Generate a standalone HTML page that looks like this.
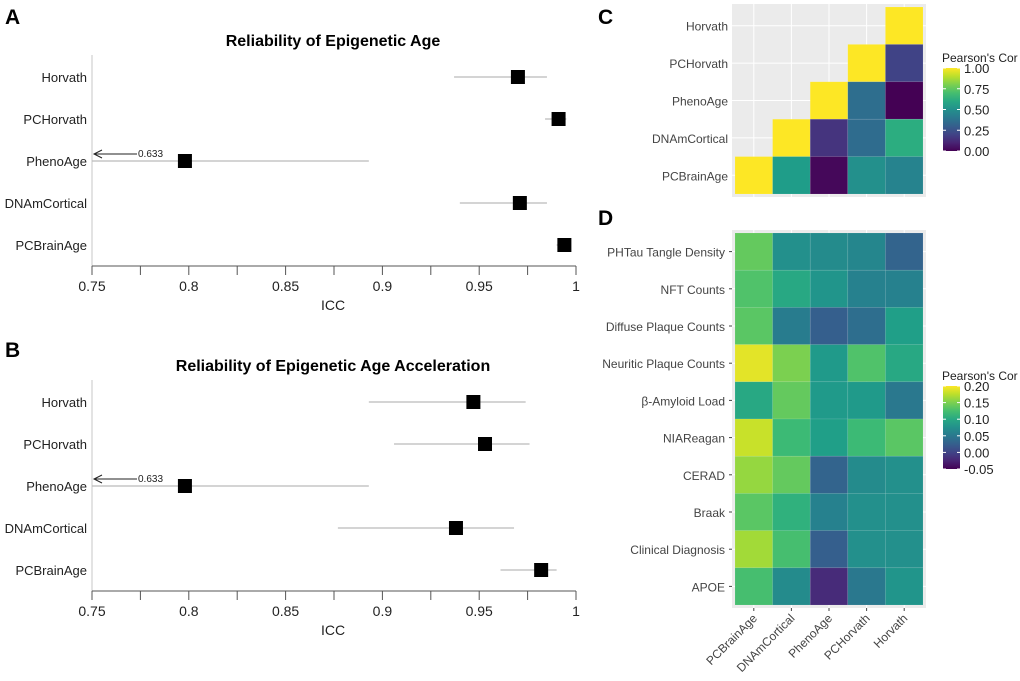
<!DOCTYPE html>
<html><head><meta charset="utf-8">
<style>
body{margin:0;background:#fff;font-family:"Liberation Sans",sans-serif;}
svg text{font-family:"Liberation Sans","DejaVu Sans",sans-serif;}
</style></head>
<body>
<svg id="fig" width="1020" height="676" viewBox="0 0 1020 676" xmlns="http://www.w3.org/2000/svg">
<text x="5" y="24" font-size="21" font-weight="bold">A</text>
<text x="5" y="357" font-size="21" font-weight="bold">B</text>
<text x="598" y="24" font-size="21" font-weight="bold">C</text>
<text x="598" y="225" font-size="21" font-weight="bold">D</text>
<g id="pa"></g>
<g id="pb"></g>
<g id="pc"></g>
<g id="pd"></g>
</svg>
<script>
const clocks = ["Horvath","PCHorvath","PhenoAge","DNAmCortical","PCBrainAge"];
const iccA = [0.970, 0.991, 0.798, 0.971, 0.994];
const lowA = [0.937, 0.984, 0.633, 0.940, 0.990];
const highA = [0.985, 0.995, 0.893, 0.985, 0.997];
const iccB = [0.947, 0.953, 0.798, 0.938, 0.982];
const lowB = [0.893, 0.906, 0.633, 0.877, 0.961];
const highB = [0.974, 0.976, 0.893, 0.968, 0.990];
const xTicks = [0.75, 0.8, 0.85, 0.9, 0.95, 1];
const xTickLabels = ["0.75","0.8","0.85","0.9","0.95","1"];

const heatCols = ["PCBrainAge","DNAmCortical","PhenoAge","PCHorvath","Horvath"];
const heatCRows = ["Horvath","PCHorvath","PhenoAge","DNAmCortical","PCBrainAge"];
const corC = [
 [null,null,null,null,1.0],
 [null,null,null,1.0,0.20],
 [null,null,1.0,0.36,0.0],
 [null,1.0,0.15,0.35,0.62],
 [1.0,0.55,0.02,0.50,0.45]
];
const cTicks = [0,0.25,0.5,0.75,1];
const cTickLabels = ["0.00","0.25","0.50","0.75","1.00"];
const heatDRows = ["PHTau Tangle Density","NFT Counts","Diffuse Plaque Counts","Neuritic Plaque Counts","β-Amyloid Load","NIAReagan","CERAD","Braak","Clinical Diagnosis","APOE"];
const corD = [
 [0.140,0.075,0.070,0.065,0.030],
 [0.130,0.100,0.080,0.060,0.060],
 [0.135,0.055,0.025,0.040,0.090],
 [0.190,0.150,0.085,0.130,0.100],
 [0.100,0.140,0.085,0.085,0.050],
 [0.180,0.120,0.090,0.120,0.135],
 [0.160,0.140,0.030,0.070,0.075],
 [0.135,0.110,0.060,0.075,0.075],
 [0.165,0.125,0.025,0.075,0.075],
 [0.125,0.070,-0.020,0.050,0.080]
];
const dTicks = [-0.05,0,0.05,0.1,0.15,0.2];
const dTickLabels = ["-0.05","0.00","0.05","0.10","0.15","0.20"];

const NS="http://www.w3.org/2000/svg";
function mk(tag, attrs, parent){const e=document.createElementNS(NS,tag);for(const k in attrs)e.setAttribute(k,attrs[k]);parent.appendChild(e);return e;}

const vir=[[68,1,84],[72,40,120],[62,74,137],[49,104,142],[38,130,142],[31,158,137],[53,183,121],[109,205,89],[180,222,44],[253,231,37]];
function viridis(t){t=Math.max(0,Math.min(1,t));const p=t*(vir.length-1);const i=Math.min(Math.floor(p),vir.length-2);const f=p-i;const a=vir[i],b=vir[i+1];return `rgb(${Math.round(a[0]+(b[0]-a[0])*f)},${Math.round(a[1]+(b[1]-a[1])*f)},${Math.round(a[2]+(b[2]-a[2])*f)})`;}

function forest(g, title, icc, low, high, top){
  const x0=92, x1=576, axisY=top+266, rowY0=top+77, rowStep=42;
  const xs=v=>x0+(v-0.75)/0.25*(x1-x0);
  const t=mk('text',{x:333,y:top+46,'font-size':16,'font-weight':'bold','text-anchor':'middle'},g);t.textContent=title;
  
  
  const ya=mk('line',{x1:x0,y1:top+55,x2:x0,y2:axisY,stroke:'#d0d0d0','stroke-width':1.2},g);
  
  
  const xa=mk('line',{x1:x0,y1:axisY,x2:x1,y2:axisY,stroke:'#555','stroke-width':1},g);
  
  
  for(let v=0.75; v<=1.0001; v+=0.025){
    const tk=mk('line',{x1:xs(v),y1:axisY,x2:xs(v),y2:axisY+9,stroke:'#555','stroke-width':1},g);
    
    
  }
  xTicks.forEach((v,i)=>{const tt=mk('text',{x:xs(v),y:axisY+25,'font-size':14,'text-anchor':'middle',fill:'#222'},g);tt.textContent=xTickLabels[i];
    
    });
  const xl=mk('text',{x:333,y:axisY+44,'font-size':14,'text-anchor':'middle',fill:'#222'},g);xl.textContent='ICC';
  
  
  clocks.forEach((c,i)=>{
    const y=rowY0+i*rowStep;
    const lb=mk('text',{x:x0-5,y:y+5,'font-size':13,'text-anchor':'end',fill:'#222'},g);lb.textContent=c;
    
    
    const lo=Math.max(low[i],0.75);
    const ci=mk('line',{x1:xs(lo),y1:y,x2:xs(high[i]),y2:y,stroke:'#bbb','stroke-width':1.2},g);
    
    
    if(low[i]<0.75){
      const ar=mk('path',{d:`M${x0+2},${y-7} H${x0+45} M${x0+10},${y-11} L${x0+2},${y-7} L${x0+10},${y-3}`,stroke:'#222',fill:'none','stroke-width':1},g);
      
      
      const at=mk('text',{x:x0+46,y:y-4,'font-size':10,fill:'#222'},g);at.textContent=low[i].toFixed(3);
      
      
    }
    const pt=mk('rect',{x:xs(icc[i])-7,y:y-7,width:14,height:14,fill:'#000'},g);
    
    
  });
}
forest(document.getElementById('pa'),'Reliability of Epigenetic Age',iccA,lowA,highA,0);
forest(document.getElementById('pb'),'Reliability of Epigenetic Age Acceleration',iccB,lowB,highB,325);

function heat(g, rows, vals, vmin, vmax, box, legY, ticks, tickLabels, showX, rowTicks){
  const {x,y,w,h}=box;
  const bg=mk('rect',{x:x-3,y:y-3,width:w+6,height:h+6,fill:'#ebebeb'},g);
  
  
  const cw=w/heatCols.length, rh=h/rows.length;
  heatCols.forEach((c,j)=>{const gl=mk('line',{x1:x+cw*(j+0.5),y1:y-3,x2:x+cw*(j+0.5),y2:y+h+3,stroke:'#fff','stroke-width':1},g);
    
    });
  rows.forEach((r,i)=>{const gl=mk('line',{x1:x-3,y1:y+rh*(i+0.5),x2:x+w+3,y2:y+rh*(i+0.5),stroke:'#fff','stroke-width':1},g);
    
    });
  rows.forEach((r,i)=>{
    const lb=mk('text',{x:x-(rowTicks?10:7),y:y+rh*(i+0.5)+5,'font-size':12,'text-anchor':'end',fill:'#444'},g);lb.textContent=r;
    
    
    if(rowTicks){const tk=mk('line',{x1:x-6,y1:y+rh*(i+0.5),x2:x-3,y2:y+rh*(i+0.5),stroke:'#444'},g);
      
      }
    vals[i].forEach((v,j)=>{
      if(v===null)return;
      const c=mk('rect',{x:x+j*cw,y:y+i*rh,width:cw,height:rh,fill:viridis((v-vmin)/(vmax-vmin)),stroke:'rgba(255,255,255,0.15)','stroke-width':0.6},g);
      
      
    });
  });
  if(showX){
    heatCols.forEach((c,j)=>{
      const cx=x+cw*(j+0.5);
      const tk=mk('line',{x1:cx,y1:y+h+3,x2:cx,y2:y+h+6,stroke:'#444'},g);
      
      
      const t=mk('text',{x:cx+4,y:y+h+14,'font-size':12,'text-anchor':'end',fill:'#444',transform:`rotate(-45 ${cx+4} ${y+h+14})`},g);t.textContent=c;
      
      
    });
  }
  const lx=943, lt=legY, lh=83;
  const tt=mk('text',{x:lx-1,y:lt-6,'font-size':12,fill:'#222'},g);tt.textContent="Pearson's Cor";
  
  
  const gid='grad'+legY;
  const defs=mk('defs',{},g);const lg=mk('linearGradient',{id:gid,x1:0,y1:1,x2:0,y2:0},defs);
  for(let k=0;k<=10;k++)mk('stop',{offset:k/10,'stop-color':viridis(k/10)},lg);
  const bar=mk('rect',{x:lx,y:lt,width:17,height:lh,fill:`url(#${gid})`},g);
  
  
  ticks.forEach((v,i)=>{
    const ty=lt+lh-(v-vmin)/(vmax-vmin)*lh;
    mk('line',{x1:lx,y1:ty,x2:lx+3,y2:ty,stroke:'#fff'},g);
    mk('line',{x1:lx+14,y1:ty,x2:lx+17,y2:ty,stroke:'#fff'},g);
    const l=mk('text',{x:lx+21,y:ty+5,'font-size':13,fill:'#222'},g);l.textContent=tickLabels[i];
    
    
  });
}
heat(document.getElementById('pc'),heatCRows,corC,0,1,{x:735,y:7,w:188,h:187},68,cTicks,cTickLabels,false,false);
heat(document.getElementById('pd'),heatDRows,corD,-0.05,0.2,{x:735,y:233,w:188,h:372},386,dTicks,dTickLabels,true,true);
</script>
</body></html>
